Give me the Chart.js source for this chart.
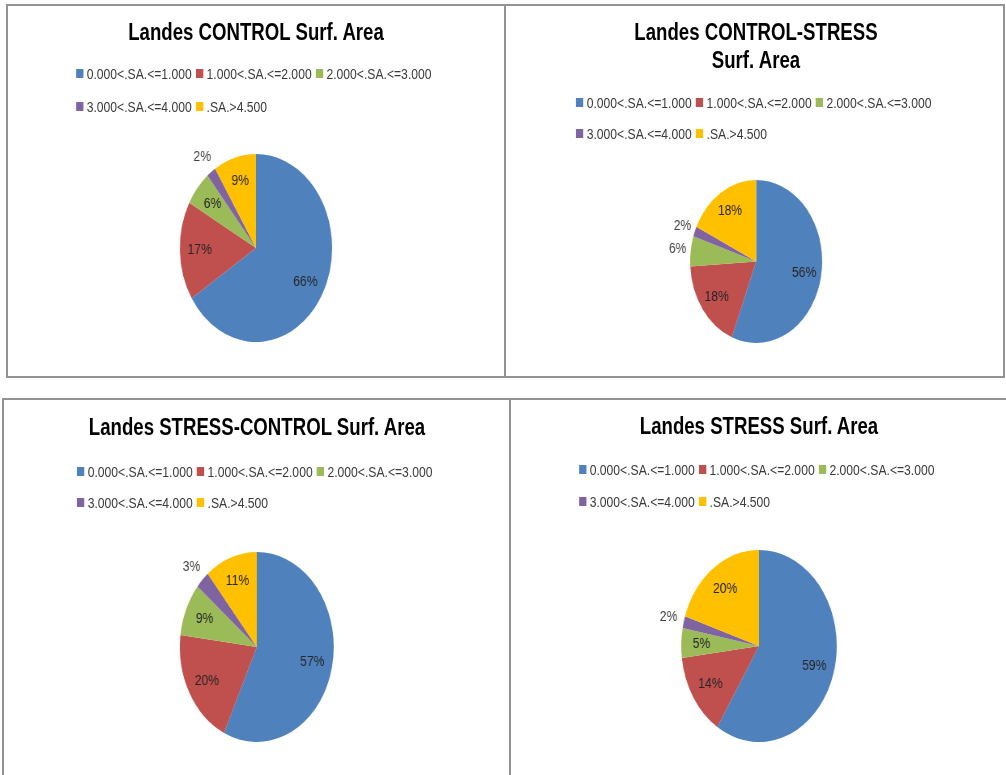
<!DOCTYPE html>
<html>
<head>
<meta charset="utf-8">
<title>Landes Surf. Area</title>
<script src="https://cdn.jsdelivr.net/npm/chart.js@4.4.1/dist/chart.umd.min.js"></script>
<style>
  html, body { margin: 0; padding: 0; background: #fff; }
  body { width: 1006px; height: 775px; overflow: hidden; position: relative; font-family: "Liberation Sans", Arial, sans-serif; }
  .line { position: absolute; background: #939393; }
  /* the whole figure is horizontally squeezed, pies are ellipses */
  #stage { position: absolute; left: 0; top: 0; width: 1242px; height: 775px; transform: scaleX(0.81); transform-origin: 0 0; }
  .title { position: absolute; width: 600px; text-align: center; font-weight: bold; font-size: 23px; line-height: 28px; color: #000; }
  .legend { position: absolute; width: 444px; display: flex; flex-wrap: wrap; font-size: 15px; color: #3a3a3a; }
  .legend .item { width: 148px; display: flex; align-items: center; white-space: nowrap; }
  .legend .box { width: 9px; height: 9px; margin-right: 4px; flex: none; }
  canvas { position: absolute; }
</style>
</head>
<body>
<div id="stage"></div>
<script>
// data
const categories = ["0.000<.SA.<=1.000", "1.000<.SA.<=2.000", "2.000<.SA.<=3.000", "3.000<.SA.<=4.000", ".SA.>4.500"];
const controlValues = [66, 17, 6, 2, 9];
const controlStressValues = [56, 18, 6, 2, 18];
const stressControlValues = [57, 20, 9, 3, 11];
const stressValues = [59, 14, 5, 2, 20];
const colors = ["#4F81BD", "#C0504D", "#9BBB59", "#8064A2", "#FFC000"];

const S = 0.81;   // horizontal squeeze
const PAD = 40;

// layout in page pixels
const panels = [
  { title: ["Landes CONTROL Surf. Area"], values: controlValues, cx: 256, cy: 248, r: 94, titleBase: 40, legendRow: 73, rowH: 33, outside: [3] },
  { title: ["Landes CONTROL-STRESS", "Surf. Area"], values: controlStressValues, cx: 756, cy: 261.5, r: 81.5, titleBase: 40, legendRow: 102.7, rowH: 31, outside: [2, 3] },
  { title: ["Landes STRESS-CONTROL Surf. Area"], values: stressControlValues, cx: 257, cy: 647, r: 95, titleBase: 435, legendRow: 471, rowH: 31, outside: [3] },
  { title: ["Landes STRESS Surf. Area"], values: stressValues, cx: 759, cy: 646, r: 96, titleBase: 434, legendRow: 469, rowH: 32, outside: [3] }
];

// panel frames
const lines = [
  [6, 4, 999, 2], [6, 376, 999, 2], [6, 4, 2, 374], [504, 4, 2, 374], [1003, 4, 2, 374],
  [2, 398, 1004, 2], [2, 398, 2, 377], [509, 398, 2, 377]
];
lines.forEach(l => {
  const d = document.createElement('div');
  d.className = 'line';
  d.style.cssText = `left:${l[0]}px;top:${l[1]}px;width:${l[2]}px;height:${l[3]}px`;
  document.body.appendChild(d);
});

const pctLabels = {
  id: 'pctLabels',
  afterDatasetsDraw(chart, args, opts) {
    const ctx = chart.ctx;
    const meta = chart.getDatasetMeta(0);
    const data = chart.data.datasets[0].data;
    const total = data.reduce((a, b) => a + b, 0);
    ctx.save();
    ctx.font = '15px "Liberation Sans", Arial, sans-serif';
    ctx.textAlign = 'center';
    ctx.textBaseline = 'middle';
    meta.data.forEach((arc, i) => {
      const out = opts.outside.includes(i);
      const mid = (arc.startAngle + arc.endAngle) / 2;
      const k = out ? 1.2 : 0.74;
      const x = arc.x + Math.cos(mid) * arc.outerRadius * k;
      const y = arc.y + Math.sin(mid) * arc.outerRadius * k;
      ctx.fillStyle = out ? '#404040' : '#262626';
      ctx.fillText(Math.round(data[i] / total * 100) + '%', x, y);
    });
    ctx.restore();
  }
};

const stage = document.getElementById('stage');
panels.forEach(p => {
  const cxu = p.cx / S;

  p.title.forEach((t, j) => {
    const d = document.createElement('div');
    d.className = 'title';
    d.textContent = t;
    d.style.left = (cxu - 300) + 'px';
    d.style.top = (p.titleBase - 22 + j * 28) + 'px';
    stage.appendChild(d);
  });

  const lg = document.createElement('div');
  lg.className = 'legend';
  lg.style.left = (cxu - 222) + 'px';
  lg.style.top = (p.legendRow - p.rowH / 2) + 'px';
  categories.forEach((c, i) => {
    const it = document.createElement('div');
    it.className = 'item';
    it.style.height = p.rowH + 'px';
    const b = document.createElement('span');
    b.className = 'box';
    b.style.background = colors[i];
    const s = document.createElement('span');
    s.textContent = c;
    it.appendChild(b);
    it.appendChild(s);
    lg.appendChild(it);
  });
  stage.appendChild(lg);

  const side = Math.round(2 * p.r + 2 * PAD);
  const cv = document.createElement('canvas');
  cv.width = side;
  cv.height = side;
  cv.style.left = (cxu - side / 2) + 'px';
  cv.style.top = (p.cy - side / 2) + 'px';
  stage.appendChild(cv);

  new Chart(cv, {
    type: 'pie',
    data: {
      labels: categories,
      datasets: [{ data: p.values, backgroundColor: colors, borderWidth: 0, hoverOffset: 0 }]
    },
    options: {
      responsive: false,
      animation: false,
      events: [],
      layout: { padding: PAD },
      plugins: {
        legend: { display: false },
        tooltip: { enabled: false },
        pctLabels: { outside: p.outside }
      }
    },
    plugins: [pctLabels]
  });
});
</script>
</body>
</html>
